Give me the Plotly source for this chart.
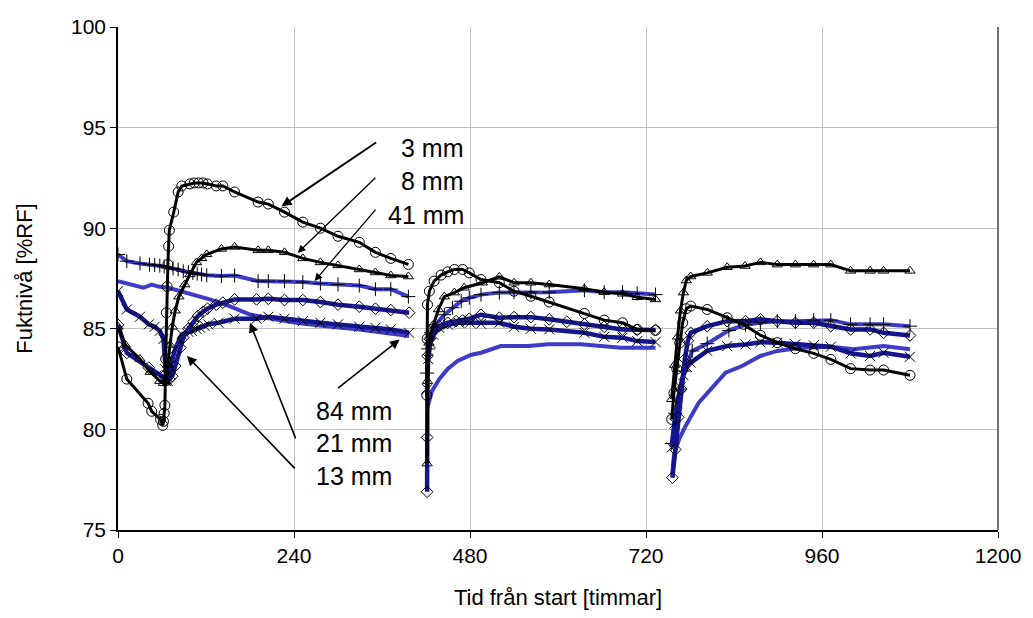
import plotly.graph_objects as go

# ---------------- data ----------------
# 3 mm  (black, open circles)
x3 = [0, 12, 41, 46, 58, 61, 62, 63, 64, 65, 66, 67, 68, 69, 70, 76, 82, 87, 98, 104, 110, 116, 122, 134, 143, 159, 191, 205, 227, 252, 276, 300, 329, 351, 372, 396,
      None,
      421, 421.5, 422, 424.6, 431, 440.6, 449.6, 458.7, 470, 479, 495, 520, 540, 563, 588, 636, 663, 688, 708, 733,
      None,
      755, 758, 762, 766, 770, 775, 781, 803.5, 830.7, 853, 876, 899, 923.7, 948.7, 972, 999, 1025.6, 1044, 1080]
y3 = [84.1, 82.5, 81.3, 80.9, 80.5, 80.2, 80.4, 80.8, 81.2, 83.5, 85.8, 87.1, 88.2, 89.1, 89.9, 90.8, 91.8, 92.1, 92.2, 92.25, 92.25, 92.25, 92.2, 92.1, 92.1, 91.8, 91.3, 91.2, 90.8, 90.3, 90.0, 89.6, 89.3, 88.8, 88.5, 88.2,
      None,
      81.7, 84.5, 86.2, 86.87, 87.37, 87.67, 87.83, 87.95, 87.95, 87.78, 87.45, 87.29, 86.87, 86.62, 86.33, 85.76, 85.43, 85.3, 84.97, 84.92,
      None,
      80.5, 81.8, 83.0, 84.3, 85.3, 86.0, 86.13, 85.96, 85.55, 85.22, 84.68, 84.31, 84.01, 83.78, 83.48, 83.02, 82.95, 82.95, 82.69]

# 8 mm  (black, open triangles)
x8 = [0, 10, 30, 44, 57, 62, 65, 68, 71, 74, 78, 83, 91, 98, 107, 114, 121, 141, 159, 191, 205, 227, 252, 276, 300, 329, 351, 372, 396,
      None,
      421.5, 422, 424, 430, 437, 445, 458.7, 472, 497, 520, 540, 563, 588, 636, 663, 688, 708, 733,
      None,
      755, 759, 763, 767, 771, 775, 781, 803.5, 830.7, 855, 876, 899, 923.7, 948.7, 972, 999, 1025.6, 1044, 1080]
y8 = [85.1, 84.2, 83.5, 82.85, 82.4, 82.3, 82.4, 83.2, 84.2, 85.1, 85.9, 86.6, 87.2, 87.7, 88.3, 88.5, 88.7, 88.97, 89.07, 88.9, 88.9, 88.8, 88.5, 88.3, 88.15, 87.95, 87.8, 87.65, 87.6,
      None,
      78.3, 82.4, 84.3, 85.2, 85.96, 86.6, 86.8, 87.04, 87.29, 87.58, 87.29, 87.29, 87.2, 86.99, 86.82, 86.74, 86.57, 86.46,
      None,
      81.5, 83.2, 84.6, 85.9, 86.8, 87.4, 87.6, 87.78, 88.06, 88.12, 88.3, 88.19, 88.19, 88.19, 88.19, 87.88, 87.88, 87.88, 87.88]

# 13 mm (navy, diamonds)
x13 = [0, 12, 42, 60, 66, 70, 74, 78, 85, 89, 96, 103, 109, 116, 122, 134, 143, 159, 189, 205, 227, 252, 276, 300, 329, 351, 372, 397,
       None,
       421.5, 421.5, 422, 425, 430, 438, 449.6, 461, 470, 479, 495, 520, 540, 563, 588, 612, 636, 663, 688, 708, 733,
       None,
       756, 760, 764, 768, 773, 777, 781, 803.5, 830.7, 855.7, 876, 899, 923.7, 948.7, 972, 999, 1025.6, 1044, 1080]
y13 = [85.2, 83.8, 83.07, 82.65, 82.5, 82.5, 82.65, 83.15, 84.06, 84.56, 85.0, 85.35, 85.63, 85.85, 86.0, 86.2, 86.3, 86.46, 86.46, 86.49, 86.43, 86.43, 86.33, 86.2, 86.1, 86.0, 85.93, 85.8,
       None,
       76.9, 79.6, 83.65, 84.5, 84.9, 85.13, 85.3, 85.38, 85.42, 85.5, 85.7, 85.55, 85.58, 85.58, 85.47, 85.35, 85.22, 85.1, 84.97, 84.95, 84.94,
       None,
       77.6, 79.0, 80.6, 82.0, 83.5, 84.4, 84.8, 85.13, 85.38, 85.38, 85.47, 85.38, 85.3, 85.3, 85.13, 84.97, 84.97, 84.8, 84.67]

# 21 mm (navy, x)
x21 = [0, 12, 30, 42, 50, 57, 62, 64, 66, 68, 72, 78, 87, 96, 101, 107, 112, 118, 123, 137, 159, 189, 205, 227, 252, 276, 300, 329, 351, 372, 397,
       None,
       421.5, 423, 426, 430, 438, 450, 465, 480, 495, 520, 540, 563, 588, 636, 663, 688, 708, 733,
       None,
       755, 759, 763, 767, 771, 776, 781, 803.5, 830.7, 855.7, 876, 899, 923.7, 948.7, 972, 999, 1025.6, 1044, 1080]
y21 = [86.87, 85.96, 85.6, 85.22, 85.1, 84.9, 84.5, 83.0, 82.4, 82.4, 83.2, 84.0, 84.72, 84.85, 84.89, 85.0, 85.05, 85.15, 85.22, 85.3, 85.5, 85.5, 85.6, 85.5, 85.38, 85.3, 85.22, 85.1, 85.05, 84.97, 84.8,
       None,
       82.0, 83.5, 84.3, 84.7, 85.05, 85.2, 85.3, 85.3, 85.25, 85.3, 85.1, 85.0, 84.97, 84.8, 84.6, 84.56, 84.39, 84.34,
       None,
       79.1, 80.3, 81.3, 82.1, 82.7, 83.1, 83.32, 83.9, 84.14, 84.22, 84.33, 84.31, 84.23, 84.18, 84.11, 83.78, 83.65, 83.81, 83.61]

# 41 mm (blue, +)
x41 = [0, 12, 30, 43, 50, 57, 63, 68, 75, 82, 89, 96, 102, 108, 114, 121, 141, 159, 191, 205, 227, 252, 276, 300, 329, 351, 372, 396,
       None,
       421.5, 423, 427, 433, 445, 456, 468, 479, 495, 520, 540, 563, 588, 636, 663, 688, 708, 733,
       None,
       755, 760, 766, 772, 783, 803.5, 833, 855.7, 876, 899, 923.7, 948.7, 972, 999, 1025.6, 1044, 1080]
y41 = [88.69, 88.36, 88.25, 88.19, 88.17, 88.14, 88.1, 88.03, 88.0, 87.95, 87.86, 87.82, 87.78, 87.74, 87.7, 87.66, 87.62, 87.65, 87.37, 87.37, 87.37, 87.32, 87.25, 87.2, 87.15, 86.97, 86.97, 86.6,
       None,
       82.8, 84.0, 84.8, 85.2, 85.7, 86.05, 86.37, 86.54, 86.7, 86.8, 86.82, 86.82, 86.82, 86.92, 86.82, 86.82, 86.76, 86.7,
       None,
       79.3, 80.8, 82.0, 82.9, 83.9, 84.26, 84.92, 85.2, 85.3, 85.38, 85.38, 85.43, 85.43, 85.22, 85.22, 85.22, 85.13]

# 84 mm (blue, no markers)
x84 = [0, 16, 34.5, 46, 55, 68.5, 93.5, 125, 152, 180, 202, 243, 284, 329, 397,
       None,
       421.5, 428, 438, 449.6, 463, 481, 495, 522, 560, 586, 631, 660, 686, 710, 733,
       None,
       756, 758, 765, 774, 792, 815, 828.5, 851, 876, 899, 930.5, 972, 1003, 1044, 1080]
y84 = [87.37, 87.2, 87.04, 87.2, 87.1, 87.04, 86.79, 86.46, 86.13, 85.71, 85.55, 85.3, 85.13, 84.97, 84.64,
       None,
       81.0, 81.9, 82.5, 83.0, 83.4, 83.7, 83.81, 84.14, 84.15, 84.23, 84.23, 84.15, 84.06, 84.06, 84.06,
       None,
       77.8, 78.7, 79.5, 80.17, 81.33, 82.24, 82.82, 83.15, 83.65, 83.9, 84.06, 84.11, 83.98, 84.14, 83.98]

x_ticks = [0, 240, 480, 720, 960, 1200]
y_ticks = [75, 80, 85, 90, 95, 100]

labels = ["3 mm", "8 mm", "41 mm", "84 mm", "21 mm", "13 mm"]

NAVY = "#14148c"
BLUE = "#3c3cc8"
FONT = "Arial, 'Liberation Sans', sans-serif"

fig = go.Figure()

def add(x, y, color, width, symbol=None, msize=8):
    mode = "lines+markers" if symbol else "lines"
    kw = dict(x=x, y=y, mode=mode, connectgaps=False, showlegend=False,
              line=dict(color=color, width=width))
    if symbol:
        kw["marker"] = dict(symbol=symbol, size=msize, color="black",
                            line=dict(color="black", width=1))
    fig.add_trace(go.Scatter(**kw))

add(x84, y84, BLUE, 4)
add(x41, y41, BLUE, 4, "cross-thin-open", 10)
add(x21, y21, NAVY, 4.5, "x-thin-open", 10)
add(x13, y13, NAVY, 4.5, "diamond-open", 9)
add(x8, y8, "black", 3, "triangle-up-open", 9)
add(x3, y3, "black", 3, "circle-open", 10)

# label annotations: (text, text_x, text_y, tail_x, tail_y, head_x, head_y, arrow width)
ann = [
    (labels[0], 474, 93.98, 354, 94.31, 223, 91.09, 2.0),
    (labels[1], 474, 92.33, 353, 92.58, 245, 88.77, 1.3),
    (labels[2], 474, 90.67, 353, 91.0, 268, 87.37, 1.3),
    (labels[3], 376, 80.92, 298, 81.99, 384, 84.47, 1.6),
    (labels[4], 376, 79.32, 243, 79.48, 180, 85.3, 1.6),
    (labels[5], 376, 77.70, 243, 77.99, 94, 83.65, 1.6),
]
for t, tx, ty, ax, ay, hx, hy, w in ann:
    fig.add_annotation(x=tx, y=ty, xref="x", yref="y", text=t, showarrow=False,
                       xanchor="right", yanchor="middle",
                       font=dict(family=FONT, size=25, color="black"))
    fig.add_annotation(x=hx, y=hy, ax=ax, ay=ay, xref="x", yref="y",
                       axref="x", ayref="y", text="", showarrow=True,
                       arrowhead=2, arrowsize=1.2 if w < 1.8 else 1.0,
                       arrowwidth=w, arrowcolor="black")

# right edge of plot area
fig.add_shape(type="line", xref="paper", yref="paper", x0=1, x1=1, y0=0, y1=1,
              line=dict(color="#404040", width=1.5))

fig.update_layout(
    width=1033, height=618,
    margin=dict(l=118, r=33, t=27, b=87),
    paper_bgcolor="white", plot_bgcolor="white",
    font=dict(family=FONT, size=21, color="black"),
)
fig.update_xaxes(range=[0, 1200], tickvals=x_ticks, ticktext=[str(v) for v in x_ticks],
                 showgrid=True, gridcolor="#c0c0c0", gridwidth=1,
                 showline=True, linecolor="black", linewidth=1.5,
                 ticks="outside", ticklen=6, tickcolor="black",
                 title=dict(text="Tid från start [timmar]", font=dict(size=22), standoff=24),
                 zeroline=False)
fig.update_yaxes(range=[75, 100], tickvals=y_ticks, ticktext=[str(v) for v in y_ticks],
                 showgrid=True, gridcolor="#c0c0c0", gridwidth=1,
                 showline=True, linecolor="black", linewidth=1.5,
                 ticks="outside", ticklen=6, tickcolor="black",
                 title=dict(text="Fuktnivå [%RF]", font=dict(size=22), standoff=32),
                 zeroline=False)

fig.write_html("out.html")
